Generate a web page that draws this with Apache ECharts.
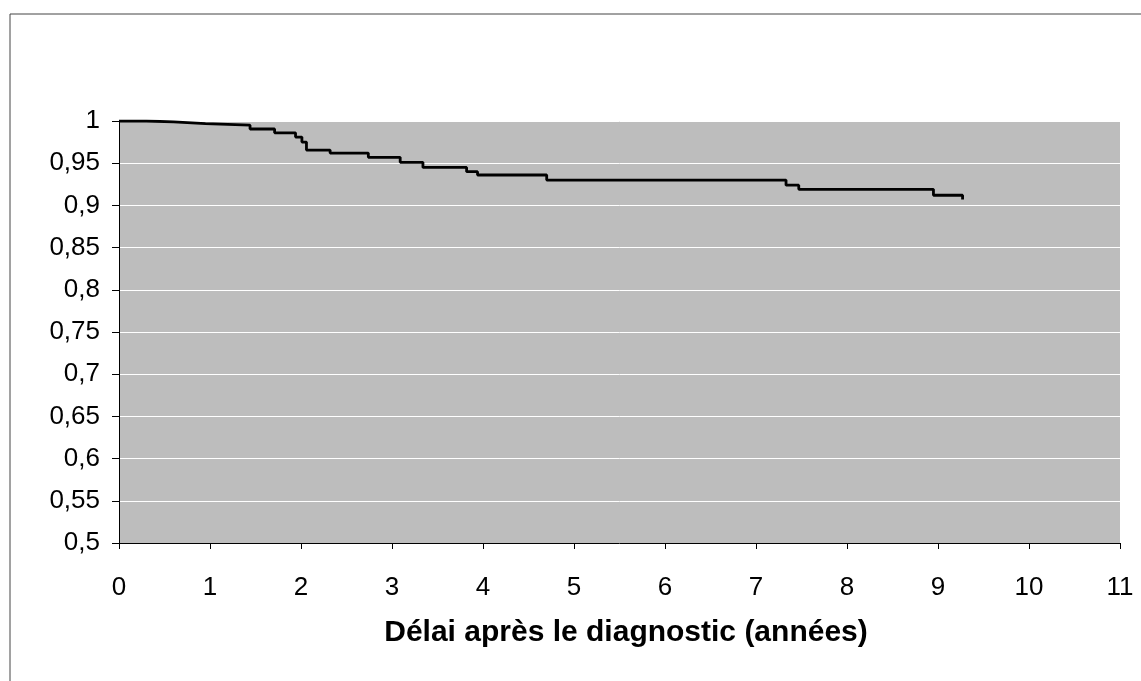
<!DOCTYPE html>
<html>
<head>
<meta charset="utf-8">
<script src="https://cdn.jsdelivr.net/npm/echarts@6/dist/echarts.min.js"></script>
<style>html,body{margin:0;padding:0;background:#fff}#c{width:1141px;height:681px}</style>
</head>
<body>
<div id="c"></div>
<script>
// Survival curve (Kaplan-Meier-like) : time in years, survival proportion
var times = [0, 0.3, 0.6, 0.95, 1.44, 1.71, 1.94, 2.01, 2.06, 2.32, 2.74, 3.09, 3.34, 3.82, 3.94, 4.70, 7.33, 7.47, 8.95, 9.27];
var survival = [1.0, 0.999, 0.997, 0.995, 0.9905, 0.986, 0.981, 0.975, 0.9655, 0.962, 0.957, 0.951, 0.945, 0.940, 0.936, 0.930, 0.924, 0.919, 0.912, 0.907];
var xAxisName = 'Délai après le diagnostic (années)';

var data = times.map(function (t, i) { return [t, survival[i]]; });
var chart = echarts.init(document.getElementById('c'));
var font = '"Liberation Sans", Arial, sans-serif';
chart.setOption({
  animation: false,
  backgroundColor: '#fff',
  graphic: [{
    type: 'rect', shape: { x: 10, y: 14, width: 1200, height: 800 },
    style: { fill: 'none', stroke: '#444', lineWidth: 1 }, silent: true
  }],
  grid: { left: 119, right: 21, top: 121, bottom: 138, show: true, backgroundColor: '#bdbdbd', borderWidth: 0 },
  xAxis: {
    type: 'value', min: 0, max: 11, interval: 1,
    name: xAxisName, nameLocation: 'middle', nameGap: 75,
    nameTextStyle: { fontFamily: font, fontSize: 30, fontWeight: 'bold', color: '#000', padding: [0, 0, 0, 13] },
    axisLine: { lineStyle: { color: '#000', width: 1 } },
    axisTick: { show: true, length: 6, lineStyle: { color: '#000' } },
    axisLabel: { fontFamily: font, fontSize: 26, color: '#000', margin: 32 },
    splitLine: { show: false }
  },
  yAxis: {
    type: 'value', min: 0.5, max: 1, interval: 0.05,
    axisLine: { show: true, lineStyle: { color: '#000', width: 1 } },
    axisTick: { show: true, length: 7, lineStyle: { color: '#000' } },
    axisLabel: {
      fontFamily: font, fontSize: 26, color: '#000', margin: 19,
      formatter: function (v) { return String(Math.round(v * 100) / 100).replace('.', ','); }
    },
    splitLine: { show: true, lineStyle: { color: '#ffffff', width: 1 } }
  },
  series: [{
    type: 'line', step: 'end', data: data, showSymbol: false,
    lineStyle: { color: '#000', width: 2.8 }
  }]
});
</script>
</body>
</html>
